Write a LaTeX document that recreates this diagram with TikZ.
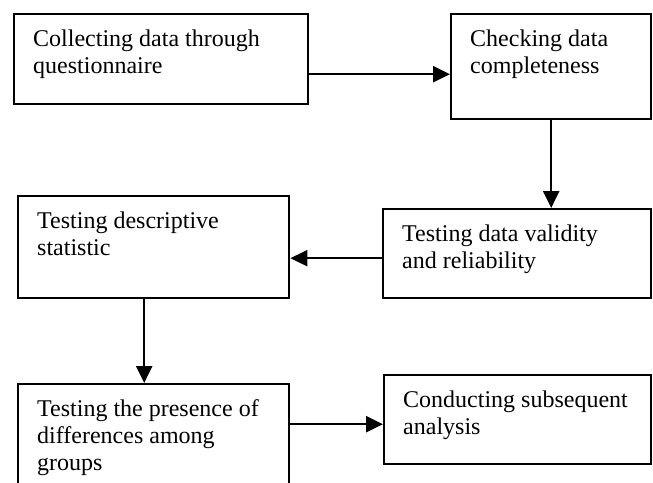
\documentclass[tikz,border=0pt]{standalone}
\usepackage{fontspec}
\setmainfont{Liberation Serif}
\usetikzlibrary{arrows.meta}

\tikzset{
  stepbox/.style={draw,line width=1.2pt,anchor=north west,inner xsep=9.5pt,inner ysep=6.5pt,
    font=\fontsize{12}{13.5}\selectfont},
  flow/.style={line width=1.2pt,-{Triangle[length=8.5pt,width=8pt]}}
}
\newcommand{\boxtext}[3]{\parbox[t][#2][t]{#1}{\raggedright\strut #3}}

\begin{document}
\begin{tikzpicture}[x=0.5pt,y=-0.5pt]
       \useasboundingbox(0,0)rectangle(653,482);%画像の範囲
       \clip(0,0)rectangle(653,482);%下端で切る

       \node[stepbox](b1)at(13,13){\boxtext{128pt}{32pt}{Collecting data through\\questionnaire}};%収集
       \node[stepbox](b2)at(450,13){\boxtext{81pt}{39.5pt}{Checking data\\completeness}};%確認
       \node[stepbox](b3)at(382,208){\boxtext{115pt}{31.5pt}{Testing data validity\\and reliability}};%妥当性
       \node[stepbox](b4)at(17,195){\boxtext{116.5pt}{38pt}{Testing descriptive\\statistic}};%記述統計
       \node[stepbox](b5)at(17,383){\boxtext{116.5pt}{47pt}{Testing the presence of\\differences among\\groups}};%群間差
       \node[stepbox](b6)at(383,374){\boxtext{114.5pt}{31.5pt}{Conducting subsequent\\analysis}};%後続分析

       \coordinate(a1)at([yshift=-7.5pt]b1.east);%矢印1の始点
       \coordinate(a3)at([yshift=-2.25pt]b3.west);%矢印3の始点
       \coordinate(a4)at([xshift=-4.75pt]b4.south);%矢印4の始点
       \coordinate(a5)at([yshift=-2.25pt]b6.west);%矢印5の終点

       \draw[flow](a1)--(a1-|b2.west);%1→2
       \draw[flow](b2.south)--(b2.south|-b3.north);%2→3
       \draw[flow](a3)--(a3-|b4.east);%3→4
       \draw[flow](a4)--(a4|-b5.north);%4→5
       \draw[flow](a5-|b5.east)--(a5);%5→6
\end{tikzpicture}
\end{document}
